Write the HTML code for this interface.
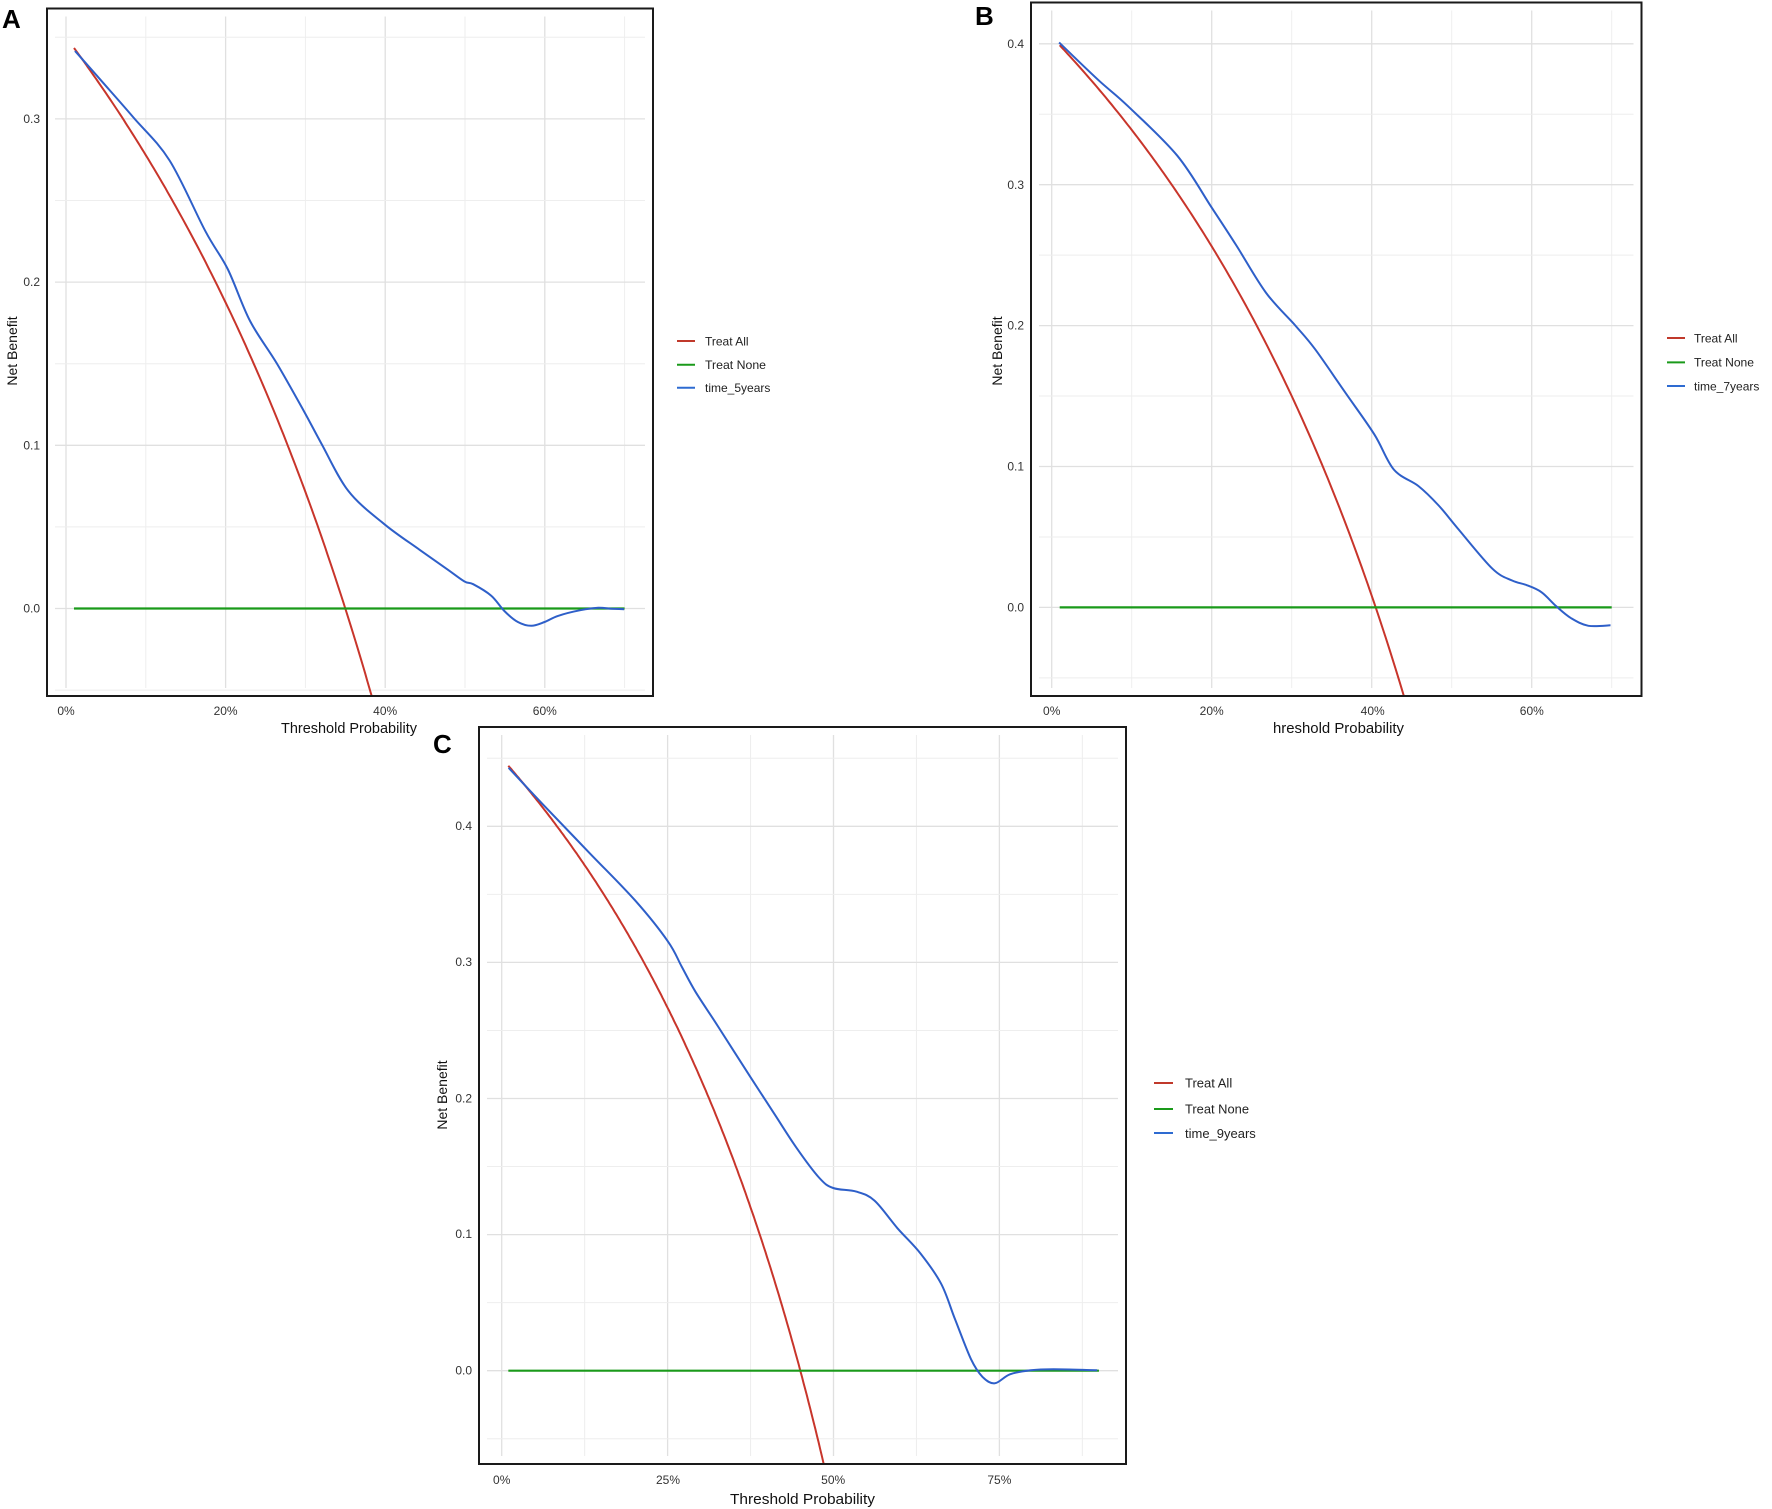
<!DOCTYPE html>
<html><head><meta charset="utf-8"><style>
html,body{margin:0;padding:0;background:#fff;width:1772px;height:1509px;overflow:hidden;}
svg{display:block;}
text{font-family:"Liberation Sans",Arial,sans-serif;}
</style></head><body>
<svg id="s" width="1772" height="1509" viewBox="0 0 1772 1509" xmlns="http://www.w3.org/2000/svg">
<g id="grid"></g>
<g id="curves"></g>
<g id="frames" fill="none" stroke="#1a1a1a" stroke-width="2">
<rect x="47" y="8.5" width="606" height="687.5"/>
<rect x="1031" y="2.5" width="610.5" height="693.5"/>
<rect x="479" y="727" width="647" height="737"/>
</g>
<g font-size="12" fill="#333">
<text x="40" y="612.5" text-anchor="end">0.0</text>
<text x="40" y="449.3" text-anchor="end">0.1</text>
<text x="40" y="286" text-anchor="end">0.2</text>
<text x="40" y="123" text-anchor="end">0.3</text>
<text x="66" y="715" text-anchor="middle">0%</text>
<text x="225.6" y="715" text-anchor="middle">20%</text>
<text x="385.2" y="715" text-anchor="middle">40%</text>
<text x="544.8" y="715" text-anchor="middle">60%</text>
<text x="1024" y="611.4" text-anchor="end">0.0</text>
<text x="1024" y="470.3" text-anchor="end">0.1</text>
<text x="1024" y="329.6" text-anchor="end">0.2</text>
<text x="1024" y="189" text-anchor="end">0.3</text>
<text x="1024" y="47.9" text-anchor="end">0.4</text>
<text x="1051.7" y="715" text-anchor="middle">0%</text>
<text x="1211.7" y="715" text-anchor="middle">20%</text>
<text x="1372.7" y="715" text-anchor="middle">40%</text>
<text x="1531.8" y="715" text-anchor="middle">60%</text>
<text x="472" y="1374.7" text-anchor="end">0.0</text>
<text x="472" y="1237.8" text-anchor="end">0.1</text>
<text x="472" y="1102.5" text-anchor="end">0.2</text>
<text x="472" y="966" text-anchor="end">0.3</text>
<text x="472" y="830.2" text-anchor="end">0.4</text>
<text x="501.7" y="1484" text-anchor="middle">0%</text>
<text x="668" y="1484" text-anchor="middle">25%</text>
<text x="833.2" y="1484" text-anchor="middle">50%</text>
<text x="999.4" y="1484" text-anchor="middle">75%</text>
</g>
<g font-size="15" fill="#111">
<text x="281" y="733" textLength="136" lengthAdjust="spacingAndGlyphs">Threshold Probability</text>
<text x="1273" y="733" textLength="131" lengthAdjust="spacingAndGlyphs">hreshold Probability</text>
<text x="730" y="1504" textLength="145" lengthAdjust="spacingAndGlyphs">Threshold Probability</text>
<text transform="translate(17,351) rotate(-90)" text-anchor="middle" font-size="14">Net Benefit</text>
<text transform="translate(1002,351) rotate(-90)" text-anchor="middle" font-size="14">Net Benefit</text>
<text transform="translate(447,1095) rotate(-90)" text-anchor="middle" font-size="14">Net Benefit</text>
</g>
<g font-size="26" font-weight="bold" fill="#000">
<text x="2" y="28">A</text>
<text x="975" y="25">B</text>
<text x="433" y="753">C</text>
</g>
<g stroke-width="2">
<line x1="677" y1="341" x2="695" y2="341" stroke="#c0392b"/>
<line x1="677" y1="364.7" x2="695" y2="364.7" stroke="#1a9a1a"/>
<line x1="677" y1="387.7" x2="695" y2="387.7" stroke="#2e6bd1"/>
<line x1="1667" y1="338" x2="1685" y2="338" stroke="#c0392b"/>
<line x1="1667" y1="362.4" x2="1685" y2="362.4" stroke="#1a9a1a"/>
<line x1="1667" y1="386" x2="1685" y2="386" stroke="#2e6bd1"/>
<line x1="1154" y1="1083" x2="1173" y2="1083" stroke="#c0392b"/>
<line x1="1154" y1="1109" x2="1173" y2="1109" stroke="#1a9a1a"/>
<line x1="1154" y1="1133" x2="1173" y2="1133" stroke="#2e6bd1"/>
</g>
<g font-size="12" fill="#222">
<text x="705" y="345.5">Treat All</text>
<text x="705" y="369" textLength="61" lengthAdjust="spacingAndGlyphs">Treat None</text>
<text x="705" y="392">time_5years</text>
<text x="1694" y="342.5">Treat All</text>
<text x="1694" y="366.5" textLength="60" lengthAdjust="spacingAndGlyphs">Treat None</text>
<text x="1694" y="390.5">time_7years</text>
</g>
<g font-size="13" fill="#222">
<text x="1185" y="1087.5">Treat All</text>
<text x="1185" y="1113.5" textLength="64" lengthAdjust="spacingAndGlyphs">Treat None</text>
<text x="1185" y="1138">time_9years</text>
</g>
</svg>
<script>
var NS="http://www.w3.org/2000/svg";
var grid=document.getElementById('grid'), cur=document.getElementById('curves');
function el(p,tag,a){var e=document.createElementNS(NS,tag);for(var k in a)e.setAttribute(k,a[k]);p.appendChild(e);return e;}
var P=[
 {bx:47,by:8.5,bw:606,bh:687.5,x0:66,kx:7.98,y0:608.5,ky:1632,xs:[0,10,20,30,40,50,60,70],ys:[-0.05,0,0.05,0.1,0.15,0.2,0.25,0.3,0.35],prev:0.35,tmax:70,
  blue:{fx:2.24,fy:2.119,ox:0,oy:0,pts:[[168,108],[240,185],[300,250],[380,340],[460,490],[510,570],[560,680],[620,770],[680,870],[720,940],[780,1040],[860,1110],[940,1165],[1000,1205],[1040,1232],[1060,1238],[1100,1262],[1130,1295],[1160,1318],[1190,1326],[1220,1318],[1250,1305],[1300,1293],[1340,1288],[1370,1290],[1398,1291]]}},
 {bx:1031,by:2.5,bw:610.5,bh:693.5,x0:1051.7,kx:8.0,y0:607.4,ky:1409,xs:[0,10,20,30,40,50,60,70],ys:[-0.05,0,0.05,0.1,0.15,0.2,0.25,0.3,0.35,0.4],prev:0.405,tmax:70,
  blue:{fx:2.031,fy:2.119,ox:1000,oy:0,pts:[[120,90],[200,170],[260,225],[360,330],[430,440],[480,520],[540,620],[600,690],[640,740],[700,830],[760,920],[800,995],[850,1030],[890,1070],[930,1120],[1000,1205],[1040,1230],[1070,1240],[1100,1255],[1130,1285],[1160,1310],[1195,1326],[1240,1325]]}},
 {bx:479,by:727,bw:647,bh:737,x0:501.7,kx:6.636,y0:1370.7,ky:1361,xs:[0,12.5,25,37.5,50,62.5,75,87.5],ys:[-0.05,0,0.05,0.1,0.15,0.2,0.25,0.3,0.35,0.4,0.45],prev:0.45,tmax:90,
  blue:{fx:2.178,fy:1.987,ox:420,oy:720,pts:[[193,95],[270,170],[370,265],[470,360],[540,440],[570,490],[600,540],[650,610],[720,710],[770,780],[820,850],[870,910],[900,930],[950,937],[990,955],[1040,1010],[1090,1060],[1135,1120],[1165,1190],[1200,1270],[1225,1305],[1252,1318],[1285,1300],[1330,1292],[1380,1290],[1475,1292]]}}
];
P.forEach(function(p,i){
 var cid='c'+i;
 el(el(cur,'clipPath',{id:cid}),'rect',{x:p.bx,y:p.by,width:p.bw,height:p.bh});
 p.xs.forEach(function(v,j){var x=p.x0+v*p.kx;el(grid,'line',{x1:x,x2:x,y1:p.by+8,y2:p.by+p.bh-8,stroke:j%2?'#eeeeee':'#e0e0e0','stroke-width':j%2?1:1.3});});
 p.ys.forEach(function(v){var y=p.y0-v*p.ky;var maj=Math.abs(v*10-Math.round(v*10))<1e-6;el(grid,'line',{x1:p.bx+8,x2:p.bx+p.bw-8,y1:y,y2:y,stroke:maj?'#e0e0e0':'#eeeeee','stroke-width':maj?1.3:1});});
 var g=el(cur,'g',{'clip-path':'url(#'+cid+')',fill:'none','stroke-width':2,'stroke-linejoin':'round'});
 var d='';for(var t=1;t<=p.tmax;t+=0.25){var tt=t/100;var nb=p.prev-(1-p.prev)*tt/(1-tt);d+=(d?'L':'M')+(p.x0+t*p.kx).toFixed(1)+','+(p.y0-nb*p.ky).toFixed(1);}
 el(g,'path',{d:d,stroke:'#c8352b'});
 el(g,'line',{x1:p.x0+p.kx,x2:p.x0+p.tmax*p.kx,y1:p.y0,y2:p.y0,stroke:'#1a9a1a','stroke-width':2.2});
 var b=p.blue;var pts=b.pts.map(function(q){return [q[0]/b.fx+b.ox,q[1]/b.fy+b.oy];});
 var s='M'+pts[0][0]+','+pts[0][1];
 for(var k=0;k<pts.length-1;k++){var p0=pts[k-1]||pts[k],p1=pts[k],p2=pts[k+1],p3=pts[k+2]||p2;
  s+='C'+(p1[0]+(p2[0]-p0[0])/6).toFixed(1)+','+(p1[1]+(p2[1]-p0[1])/6).toFixed(1)+' '+(p2[0]-(p3[0]-p1[0])/6).toFixed(1)+','+(p2[1]-(p3[1]-p1[1])/6).toFixed(1)+' '+p2[0].toFixed(1)+','+p2[1].toFixed(1);}
 el(g,'path',{d:s,stroke:'#2e5fc9'});
});
</script>
</body></html>
